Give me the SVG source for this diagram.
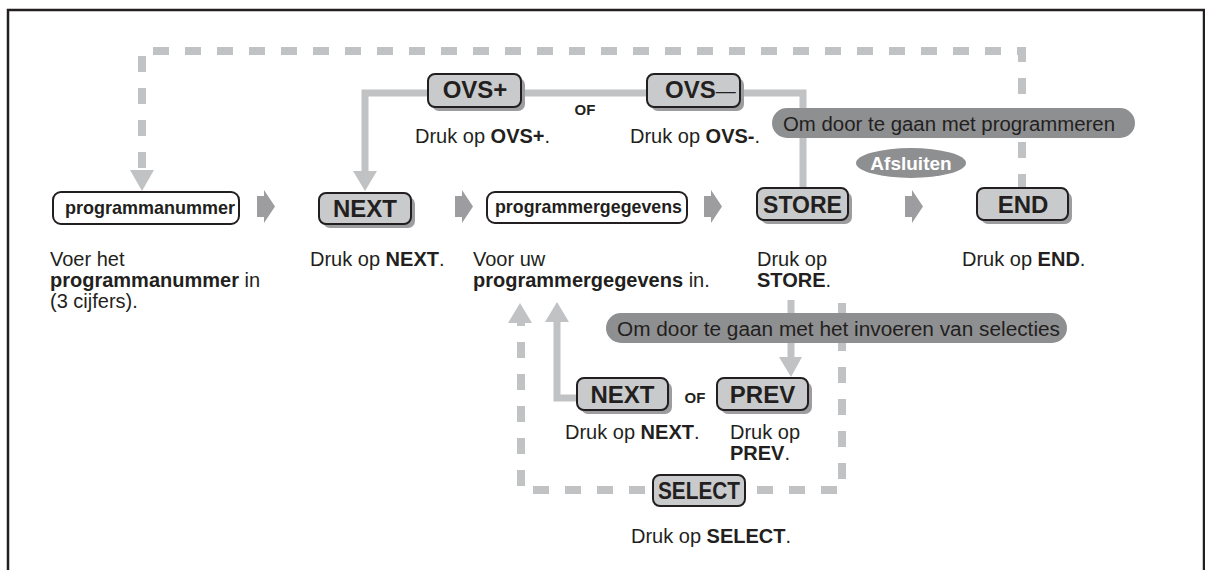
<svg xmlns="http://www.w3.org/2000/svg" width="1205" height="570" viewBox="0 0 1205 570">
<style>
.t{font-family:"Liberation Sans",Arial,sans-serif;fill:#231f20;font-size:20px}
.b{font-weight:bold}
.key{font-family:"Liberation Sans",Arial,sans-serif;font-weight:bold;font-size:24px;fill:#231f20;text-anchor:middle}
.box{fill:#c9cacc;stroke:#231f20;stroke-width:2}
.sh{fill:#9d9d9f}
.wbox{fill:#fff;stroke:#231f20;stroke-width:2}
.dash{fill:none;stroke:#c1c2c4;stroke-width:8;stroke-dasharray:16 16}
.solid{fill:none;stroke:#c1c2c4;stroke-width:7}
.head{fill:#c1c2c4}
.pill{fill:#8e8f91}
.chev{fill:#9d9d9f}
</style>
<defs>
<path id="chev" d="M0,6 L7,6 L7,0 L18,16.5 L7,33 L7,27 L0,27 Z"/>
</defs>
<rect x="8" y="10" width="1196" height="590" fill="none" stroke="#231f20" stroke-width="2.5"/>
<g id="connectors">
<path class="dash" d="M1022,190 V51 H142 V170"/>
<polygon class="head" points="130,170 154,170 142,191"/>
<path class="solid" d="M803,190 V93 H365 V172"/>
<polygon class="head" points="353,171 377,171 365,191"/>
<path class="solid" d="M791,300 V358"/>
<polygon class="head" points="779,357 802,357 791,377"/>
<path class="dash" d="M842,303 V490 H521 V323"/>
<polygon class="head" points="508,323 532,323 520,303"/>
<path class="solid" d="M577,398 H557 V322"/>
<polygon class="head" points="545,322 569,322 557,302"/>
<use href="#chev" class="chev" x="257" y="190"/>
<use href="#chev" class="chev" x="455" y="190"/>
<use href="#chev" class="chev" x="704" y="190"/>
<use href="#chev" class="chev" x="905" y="190"/>
</g>
<g id="pill-programmeren">
<rect class="pill" x="772" y="108" width="363" height="30" rx="15"/>
<text class="t" x="783" y="131" textLength="332" lengthAdjust="spacingAndGlyphs">Om door te gaan met programmeren</text>
</g>
<g id="pill-selecties">
<rect class="pill" x="606" y="313" width="461" height="30" rx="15"/>
<text class="t" x="617" y="336" textLength="443" lengthAdjust="spacingAndGlyphs">Om door te gaan met het invoeren van selecties</text>
</g>
<g id="afsluiten">
<ellipse cx="911" cy="163" rx="55" ry="15" fill="#8e8f91"/>
<text x="911" y="170" text-anchor="middle" font-family="Liberation Sans,Arial,sans-serif" font-weight="bold" font-size="19" fill="#fff">Afsluiten</text>
</g>
<g id="ovs-plus">
<rect class="sh" x="432" y="78" width="93" height="33" rx="7"/>
<rect class="box" x="428" y="74" width="93" height="33" rx="7"/>
<text class="key" x="475" y="98">OVS+</text>
<text class="t" x="415" y="143">Druk op <tspan class="b">OVS+</tspan>.</text>
</g>
<g id="of-top">
<text class="t b" x="585" y="115" style="font-size:15px;text-anchor:middle">OF</text>
</g>
<g id="ovs-min">
<rect class="sh" x="651" y="78" width="93" height="33" rx="7"/>
<rect class="box" x="647" y="74" width="93" height="33" rx="7"/>
<text class="key" x="665" y="98" style="text-anchor:start">OVS<tspan font-weight="normal" font-size="20">—</tspan></text>
<text class="t" x="630" y="143">Druk op <tspan class="b">OVS-</tspan>.</text>
</g>
<g id="programmanummer">
<rect class="wbox" x="53" y="192" width="186" height="32" rx="8"/>
<text class="t b" x="65" y="214" textLength="170" lengthAdjust="spacingAndGlyphs" style="font-size:19px">programmanummer</text>
<text class="t" x="50" y="266">Voer het</text>
<text class="t" x="50" y="287"><tspan class="b">programmanummer</tspan> in</text>
<text class="t" x="50" y="308">(3 cijfers).</text>
</g>
<g id="next-main">
<rect class="sh" x="323" y="197" width="92" height="31" rx="7"/>
<rect class="box" x="319" y="193" width="92" height="31" rx="7"/>
<text class="key" x="365" y="217">NEXT</text>
<text class="t" x="310" y="266">Druk op <tspan class="b">NEXT</tspan>.</text>
</g>
<g id="programmergegevens">
<rect class="wbox" x="487" y="192" width="200" height="31" rx="8"/>
<text class="t b" x="495" y="213" textLength="187" lengthAdjust="spacingAndGlyphs" style="font-size:19px">programmergegevens</text>
<text class="t" x="473" y="266">Voor uw</text>
<text class="t" x="473" y="287"><tspan class="b">programmergegevens</tspan> in.</text>
</g>
<g id="store">
<rect class="sh" x="761" y="192" width="91" height="32" rx="7"/>
<rect class="box" x="757" y="188" width="91" height="32" rx="7"/>
<text class="key" x="802.5" y="213" style="font-size:23px">STORE</text>
<text class="t" x="757" y="266">Druk op</text>
<text class="t b" x="757" y="287">STORE<tspan font-weight="normal">.</tspan></text>
</g>
<g id="end">
<rect class="sh" x="981" y="192" width="91" height="32" rx="7"/>
<rect class="box" x="977" y="188" width="91" height="32" rx="7"/>
<text class="key" x="1023" y="213">END</text>
<text class="t" x="962" y="266">Druk op <tspan class="b">END</tspan>.</text>
</g>
<g id="next-lower">
<rect class="sh" x="581" y="382" width="91" height="32" rx="7"/>
<rect class="box" x="577" y="378" width="91" height="32" rx="7"/>
<text class="key" x="622.5" y="403">NEXT</text>
<text class="t" x="565" y="439">Druk op <tspan class="b">NEXT</tspan>.</text>
</g>
<g id="of-lower">
<text class="t b" x="695" y="403" style="font-size:15px;text-anchor:middle">OF</text>
</g>
<g id="prev">
<rect class="sh" x="721" y="382" width="91" height="32" rx="7"/>
<rect class="box" x="717" y="378" width="91" height="32" rx="7"/>
<text class="key" x="762.5" y="403">PREV</text>
<text class="t" x="730" y="439">Druk op</text>
<text class="t b" x="730" y="460">PREV<tspan font-weight="normal">.</tspan></text>
</g>
<g id="select">
<rect class="box" x="653" y="475" width="92" height="31" rx="7"/>
<text class="key" x="699" y="499" textLength="82" lengthAdjust="spacingAndGlyphs">SELECT</text>
<text class="t" x="631" y="543">Druk op <tspan class="b">SELECT</tspan>.</text>
</g>
</svg>
